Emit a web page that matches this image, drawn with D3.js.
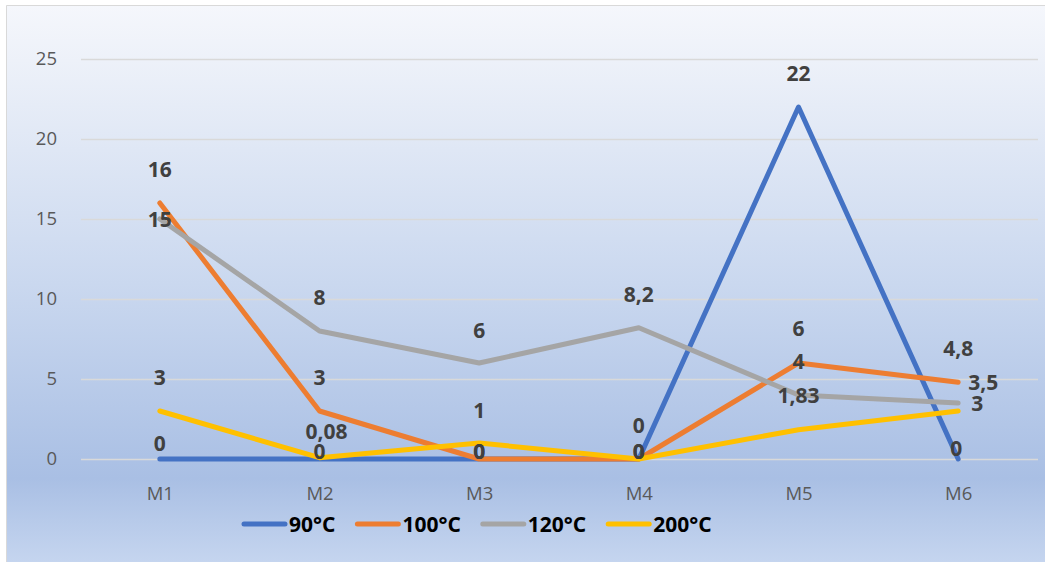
<!DOCTYPE html>
<html>
<head>
<meta charset="utf-8">
<script src="https://cdn.jsdelivr.net/npm/d3@7/dist/d3.min.js"></script>
<style>
  html, body { margin: 0; padding: 0; background: #ffffff; }
  svg { display: block; }
</style>
</head>
<body>
<svg id="chart" width="1045" height="562"></svg>
<script>
// Samples on the horizontal axis
const categories = ["M1", "M2", "M3", "M4", "M5", "M6"];

// Measured values per temperature
const series90  = [0, 0, 0, 0, 22, 0];
const series100 = [16, 3, 0, 0, 6, 4.8];
const series120 = [15, 8, 6, 8.2, 4, 3.5];
const series200 = [3, 0.08, 1, 0, 1.83, 3];

const seriesNames = ["90°C", "100°C", "120°C", "200°C"];
const yTicks = [0, 5, 10, 15, 20, 25];

// Label placement (pixels, relative to each point) and line colours
const colors = ["#4472C4", "#ED7D31", "#A5A5A5", "#FFC000"];
const labelShift = [
  [[0, -16], [0, -8], [0, -8], [0, -34], [0, -34], [-2, -11]],
  [[0, -34], [0, -34], [0, -8], [0, -8], [0, -35], [0, -34]],
  [[0, 0], [0, -34], [0, -33], [0, -33], [0, -34], [25, -21]],
  [[0, -34], [7, -26], [0, -33], [0, -8], [0, -34], [19, -8]]
];

const allSeries = [series90, series100, series120, series200];

const svg = d3.select("#chart");
const W = 1045, H = 562;

// Background panel with vertical gradient
const defs = svg.append("defs");
const grad = defs.append("linearGradient")
  .attr("id", "bg").attr("x1", 0).attr("y1", 0).attr("x2", 0).attr("y2", 1);
[["0%", "#f5f7fc"], ["10%", "#edf1f9"], ["50%", "#cad8ef"], ["85%", "#a9bfe4"], ["100%", "#c5d5ef"]]
  .forEach(([o, c]) => grad.append("stop").attr("offset", o).attr("stop-color", c));

svg.append("rect")
  .attr("x", 6).attr("y", 5).attr("width", W - 6).attr("height", H - 5)
  .attr("fill", "url(#bg)");
svg.append("path")
  .attr("d", `M6.5,${H} V5.5 H${W}`)
  .attr("fill", "none").attr("stroke", "#d9d9d9").attr("stroke-width", 1);

// Scales
const x = d3.scalePoint().domain(categories).range([80, 1038]).padding(0.5);
const y = d3.scaleLinear().domain([0, 25]).range([459, 59]);

const tickFont = "'Open Sans', 'Noto Sans', sans-serif";

// Gridlines + y axis labels
const yAxis = d3.axisLeft(y).tickValues(yTicks).tickSize(-(1038 - 81)).tickPadding(24);
const gy = svg.append("g").attr("transform", "translate(81,0)").call(yAxis);
gy.select(".domain").remove();
gy.selectAll(".tick line").attr("stroke", "#d9d9d9").attr("stroke-width", 1.3);
gy.selectAll(".tick text")
  .attr("fill", "#595959")
  .style("font-family", tickFont)
  .style("font-size", "18.5px");

// x axis labels
const xAxis = d3.axisBottom(x).tickSize(0).tickPadding(28);
const gx = svg.append("g").attr("transform", "translate(0,459)").call(xAxis);
gx.select(".domain").remove();
gx.selectAll(".tick text")
  .attr("fill", "#595959")
  .style("font-family", tickFont)
  .style("font-size", "18.5px");

// Lines
const line = d3.line()
  .x((d, i) => x(categories[i]))
  .y(d => y(d));

allSeries.forEach((vals, s) => {
  svg.append("path")
    .datum(vals)
    .attr("d", line)
    .attr("fill", "none")
    .attr("stroke", colors[s])
    .attr("stroke-width", 5)
    .attr("stroke-linecap", "round")
    .attr("stroke-linejoin", "round");
});

// Data labels
const fmt = v => String(v).replace(".", ",");
const labelSize = 21;
allSeries.forEach((vals, s) => {
  svg.append("g").selectAll("text")
    .data(vals)
    .join("text")
    .attr("x", (d, i) => x(categories[i]) + labelShift[s][i][0])
    .attr("y", (d, i) => y(d) + labelShift[s][i][1] + labelSize * 0.36)
    .attr("text-anchor", "middle")
    .attr("fill", "#404040")
    .style("font-family", tickFont)
    .style("font-weight", "bold")
    .style("font-size", labelSize + "px")
    .text(d => fmt(d));
});

// Legend
const legend = svg.append("g").attr("transform", "translate(242,524)");
let lx = 0;
seriesNames.forEach((name, s) => {
  const g = legend.append("g").attr("transform", `translate(${lx},0)`);
  g.append("line")
    .attr("x1", 2).attr("x2", 43).attr("y1", 0).attr("y2", 0)
    .attr("stroke", colors[s]).attr("stroke-width", 5).attr("stroke-linecap", "round");
  const t = g.append("text")
    .attr("x", 47).attr("y", labelSize * 0.36)
    .attr("fill", "#000000")
    .style("font-family", tickFont)
    .style("font-weight", "bold")
    .style("font-size", labelSize + "px")
    .text(name);
  lx += 47 + t.node().getComputedTextLength() + 20;
});
</script>
</body>
</html>
